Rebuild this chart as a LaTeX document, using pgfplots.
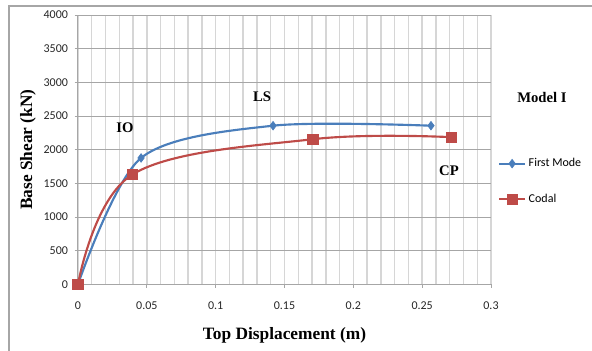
\documentclass[border=0pt]{standalone}
\usepackage{pgfplots}
\pgfplotsset{compat=1.18}
\usepackage{fontspec}
\setmainfont{Liberation Serif}
\newfontfamily\calfont{Carlito}
\definecolor{sblue}{HTML}{4A7EBB}
\definecolor{sred}{HTML}{BE4B48}
\definecolor{hgrid}{HTML}{A6A6A6}
\definecolor{vgrid}{HTML}{D6D6D6}
\begin{document}
\begin{tikzpicture}
\begin{axis}[
  at={(0,0)}, anchor=south west,
  scale only axis, width=309.75pt, height=202pt,
  xmin=0, xmax=0.3, ymin=0, ymax=4000,
  xtick={0,0.05,...,0.3},
  xticklabels={0,0.05,0.1,0.15,0.2,0.25,0.3},
  ytick={0,500,...,4000},
  minor x tick num=4,
  minor tick length=0pt,
  major tick length=2.5pt,
  tick align=outside,
  tick style={hgrid, line width=0.6pt},
  axis x line*=bottom, axis y line*=left,
  axis line style={hgrid, line width=0.75pt, -},
  xmajorgrids, xminorgrids, ymajorgrids,
  major x grid style={vgrid, line width=1.1pt},
  minor x grid style={vgrid, line width=1.1pt},
  y grid style={hgrid, line width=0.6pt},
  scaled ticks=false,
  /pgf/number format/1000 sep={},
  /pgf/number format/assume math mode=true,
  ticklabel style={font=\calfont\fontsize{9}{10}\selectfont, text=black!85},
  xticklabel style={yshift=-7pt},
  yticklabel style={xshift=-1.5pt},
  xlabel={\textbf{Top Displacement (m)}},
  ylabel={\textbf{Base Shear (kN)}},
  label style={font=\fontsize{13}{15}\selectfont},
  xlabel style={at={(axis description cs:0.5,0)}, anchor=center, yshift=-38pt},
  ylabel style={at={(axis description cs:0,0.5)}, anchor=center, yshift=37.5pt},
  clip=false,
  legend style={draw=none, fill=none, at={(axis cs:0.305,1527)}, anchor=west,
    font=\calfont\fontsize{9}{10}\selectfont, row sep=15pt, inner sep=0pt},
  legend cell align=left,
  legend image code/.code={\draw[mark repeat=2,mark phase=2] plot coordinates {(0cm,0cm)(0.34cm,0cm)(0.68cm,0cm)};},
]
\addplot[sblue, line width=1.6pt, smooth, mark=diamond*, mark size=3.2pt, mark options={fill=sblue, line width=0.5pt}]
  coordinates {(0,0) (0.0458,1876) (0.1417,2355) (0.2564,2355)};
\addlegendentry{First Mode}
\addplot[sred, line width=1.6pt, smooth, tension=0.6, mark=square*, mark size=3.9pt, mark options={fill=sred, line width=0.5pt}]
  coordinates {(0,0) (0.0395,1630) (0.1705,2154) (0.2712,2185)};
\addlegendentry{Codal}
\node[font=\bfseries\fontsize{11}{13}\selectfont] at (axis cs:0.0341,2321) {IO};
\node[font=\bfseries\fontsize{11}{13}\selectfont] at (axis cs:0.1337,2782) {LS};
\node[font=\bfseries\fontsize{11}{13}\selectfont] at (axis cs:0.2695,1683) {CP};
\node[font=\bfseries\fontsize{11}{13}\selectfont] at (axis cs:0.337,2767) {Model I};
\end{axis}
\draw[hgrid, line width=0.9pt] (-51.75pt,-60pt) -- (-51.75pt,208.7pt) -- (400pt,208.7pt);
\pgfresetboundingbox
\path[use as bounding box] (-58.5pt,-50pt) rectangle (385.5pt,213.2pt);
\end{tikzpicture}
\end{document}
